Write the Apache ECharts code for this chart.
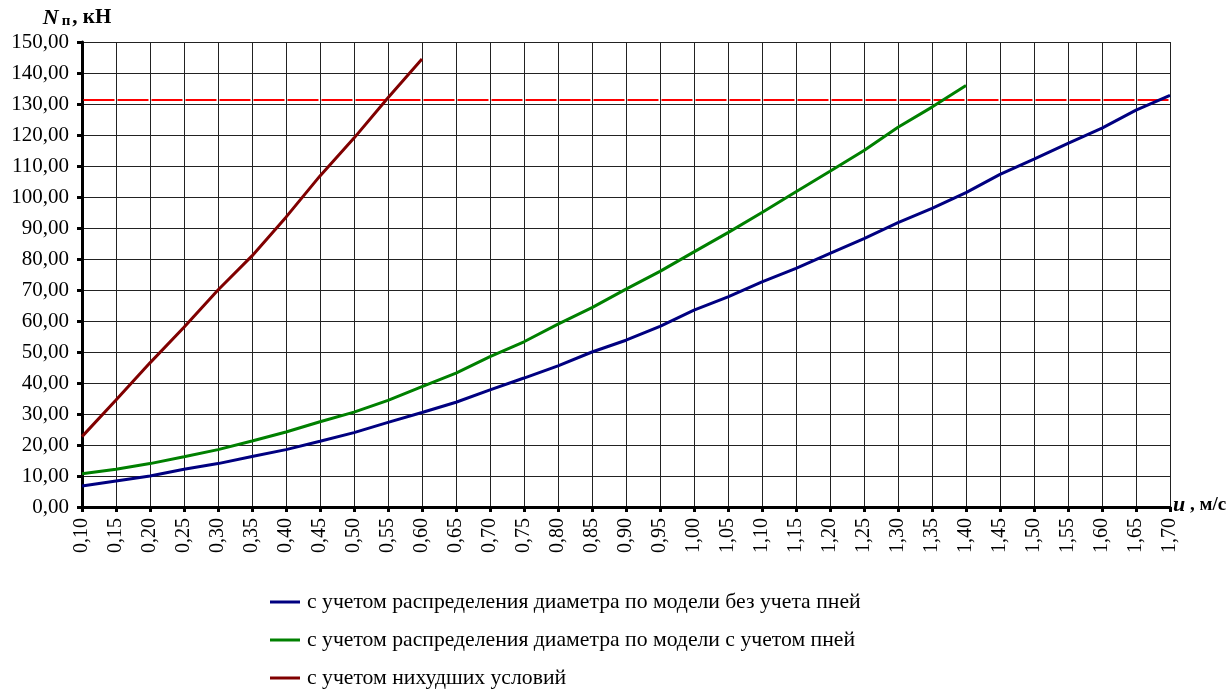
<!DOCTYPE html>
<html lang="ru">
<head>
    <meta charset="UTF-8">
    <title>N п от u</title>
    <script src="https://cdn.jsdelivr.net/npm/echarts@6/dist/echarts.min.js"></script>
    <style>
        body { margin: 0; background: #fff; }
        #chart { width: 1230px; height: 695px; }
    </style>
</head>
<body>
    <div id="chart"></div>
    <script>
        // скорость u, м/с
        const speeds = ['0.10', '0.15', '0.20', '0.25', '0.30', '0.35', '0.40', '0.45', '0.50', '0.55',
            '0.60', '0.65', '0.70', '0.75', '0.80', '0.85', '0.90', '0.95', '1.00', '1.05', '1.10',
            '1.15', '1.20', '1.25', '1.30', '1.35', '1.40', '1.45', '1.50', '1.55', '1.60', '1.65', '1.70'];

        // без учета пней
        const noStumps = [6.8, 8.4, 10.0, 12.2, 14.0, 16.3, 18.5, 21.2, 24.0, 27.3, 30.5, 33.8, 37.8,
            41.6, 45.5, 50.0, 53.8, 58.3, 63.5, 67.8, 72.6, 77.0, 81.8, 86.6, 91.7, 96.3, 101.4,
            107.3, 112.2, 117.3, 122.2, 128.0, 132.8];

        // с учетом пней
        const withStumps = [10.7, 12.2, 14.0, 16.2, 18.5, 21.3, 24.2, 27.5, 30.6, 34.4, 38.8, 43.2,
            48.5, 53.3, 59.0, 64.3, 70.3, 76.0, 82.3, 88.5, 95.0, 101.7, 108.3, 115.0, 122.5, 129.0, 136.0];

        // наихудшие условия
        const worst = [22.7, 34.5, 46.5, 58.0, 70.0, 81.0, 93.5, 106.8, 119.0, 132.0, 144.5];

        const limitLevel = 131.5;

        const seriesNames = [
            'с учетом распределения диаметра по модели без учета пней',
            'с учетом распределения диаметра по модели с учетом пней',
            'с учетом нихудших условий'
        ];

        const serif = '"Liberation Serif", "Times New Roman", serif';
        const fmt = v => Number(v).toFixed(2).replace('.', ',');

        const chart = echarts.init(document.getElementById('chart'));

        const option = {
            animation: false,
            textStyle: { fontFamily: serif, color: '#000' },
            grid: { left: 82, right: 60, top: 42, bottom: 188, outerBoundsMode: 'none', containLabel: false },
            legend: {
                orient: 'vertical',
                left: 270,
                top: 591,
                padding: 0,
                itemWidth: 30,
                itemHeight: 3,
                itemGap: 16,
                icon: 'rect',
                textStyle: { fontFamily: serif, fontSize: 21.7, color: '#000', lineHeight: 22, padding: [0, 0, 0, 2] },
                data: seriesNames
            },
            xAxis: {
                type: 'category',
                data: speeds,
                boundaryGap: false,
                name: '{i|u}{b| , м/с}',
                nameLocation: 'end',
                nameGap: 3,
                nameMoveOverlap: false,
                nameTextStyle: {
                    verticalAlign: 'middle',
                    padding: [0, 0, 4, 0],
                    rich: {
                        i: { fontFamily: serif, fontSize: 22, fontWeight: 'bold', fontStyle: 'italic' },
                        b: { fontFamily: serif, fontSize: 19, fontWeight: 'bold' }
                    }
                },
                axisLine: { lineStyle: { color: '#000', width: 3 } },
                axisTick: { show: true, inside: false, length: 5, lineStyle: { color: '#000', width: 3 } },
                axisLabel: {
                    rotate: 90,
                    interval: 0,
                    margin: 11,
                    fontFamily: serif,
                    fontSize: 20,
                    color: '#000',
                    formatter: v => v.replace('.', ',')
                },
                splitLine: { show: true, lineStyle: { color: '#222', width: 1 } }
            },
            yAxis: {
                type: 'value',
                min: 0,
                max: 150,
                interval: 10,
                name: '{i|N}{s|п}{b|, кН}',
                nameLocation: 'end',
                nameGap: 13,
                nameTextStyle: {
                    align: 'center',
                    padding: [0, 10, 0, 0],
                    rich: {
                        i: { fontFamily: serif, fontSize: 22, fontWeight: 'bold', fontStyle: 'italic' },
                        s: { fontFamily: serif, fontSize: 15, fontWeight: 'bold', padding: [6, 2, 0, 3] },
                        b: { fontFamily: serif, fontSize: 21, fontWeight: 'bold' }
                    }
                },
                axisLine: { show: true, lineStyle: { color: '#000', width: 3 } },
                axisTick: { show: true, length: 5, lineStyle: { color: '#000', width: 3 } },
                axisLabel: {
                    margin: 13,
                    fontFamily: serif,
                    fontSize: 21,
                    color: '#000',
                    formatter: fmt
                },
                splitLine: { show: true, lineStyle: { color: '#222', width: 1 } }
            },
            series: [
                {
                    name: seriesNames[0],
                    type: 'line',
                    data: noStumps,
                    symbol: 'none',
                    itemStyle: { color: '#000080' },
                    lineStyle: { color: '#000080', width: 3 },
                    z: 5
                },
                {
                    name: seriesNames[1],
                    type: 'line',
                    data: withStumps,
                    symbol: 'none',
                    itemStyle: { color: '#008000' },
                    lineStyle: { color: '#008000', width: 3 },
                    z: 5
                },
                {
                    name: seriesNames[2],
                    type: 'line',
                    data: worst,
                    symbol: 'none',
                    itemStyle: { color: '#800000' },
                    lineStyle: { color: '#800000', width: 3 },
                    z: 6,
                    markLine: {
                        silent: true,
                        symbol: 'none',
                        label: { show: false },
                        lineStyle: { color: '#ff0000', width: 2, type: [31, 3], dashOffset: -1.5 },
                        data: [{ yAxis: limitLevel }]
                    }
                }
            ]
        };

        chart.setOption(option);
    </script>
</body>
</html>
